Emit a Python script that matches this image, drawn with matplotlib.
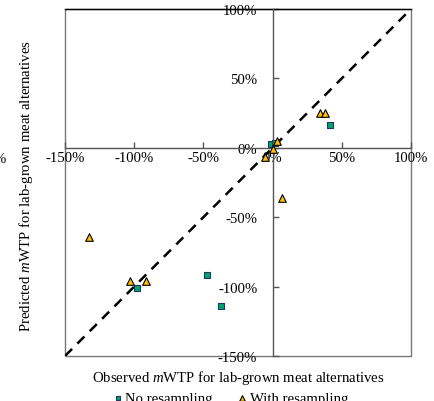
import matplotlib
matplotlib.use('Agg')
import matplotlib.pyplot as plt
from matplotlib.patches import Rectangle

plt.rcParams['font.family'] = ['Liberation Serif', 'DejaVu Serif']
plt.rcParams['mathtext.fontset'] = 'custom'
plt.rcParams['mathtext.it'] = 'Liberation Serif:italic'
plt.rcParams['mathtext.rm'] = 'Liberation Serif'

# observed vs predicted mWTP (%)
no_resamp_obs = [-1, 1.5, 41.5, -98, -47.5, -37]
no_resamp_pred = [2.5, 3.5, 16.8, -101, -91.5, -114]

with_resamp_obs = [34.3, 37.7, 3.4, 0.2, -5.6, 6.8, -132.8, -103, -91.8]
with_resamp_pred = [25.2, 25.2, 4.8, -1.2, -6.3, -36, -64.3, -96, -96]

ticks = [-150, -100, -50, 0, 50, 100]
tick_labels = ['-150%', '-100%', '-50%', '0%', '50%', '100%']

fs = 10.6

fig = plt.figure(figsize=(4.34, 4.02), dpi=100)
ax = fig.add_axes([0.1498, 0.112, 0.797, 0.863])

ax.plot([-150, 100], [-150, 100], color='black', linestyle=(0, (4, 3)), lw=1.8, zorder=2)

ax.scatter(no_resamp_obs, no_resamp_pred, marker='s', s=22, color='#00A36C',
           edgecolor='#1F3864', linewidth=0.8, label='No resampling', zorder=3)
ax.scatter(with_resamp_obs, with_resamp_pred, marker='^', s=30, color='#FFC000',
           edgecolor='black', linewidth=0.8, label='With resampling', zorder=3)

ax.set_xlim(-150, 100)
ax.set_ylim(-150, 100)

# axes cross at zero, plus a thin box round the plot area
ax.spines['left'].set_position(('data', 0))
ax.spines['bottom'].set_position(('data', 0))
ax.spines['right'].set_visible(False)
ax.spines['top'].set_visible(False)
for s in ['left', 'bottom']:
    ax.spines[s].set_color('#555555')
    ax.spines[s].set_linewidth(1.0)
ax.add_patch(Rectangle((0, 0), 1, 1, transform=ax.transAxes, fill=False,
                       edgecolor='#777777', lw=1.0, zorder=1, clip_on=False))
ax.plot([0, 1], [1, 1], transform=ax.transAxes, color='black', lw=1.0, clip_on=False)

ax.set_xticks(ticks)
ax.set_xticklabels(tick_labels)
ax.set_yticks(ticks)
ax.set_yticklabels(tick_labels)
ax.tick_params(axis='both', direction='in', length=4, width=1, color='#555555',
               labelsize=fs)
ax.tick_params(axis='x', pad=2)
ax.tick_params(axis='y', pad=11)

ax.set_xlabel('Observed $m$WTP for lab-grown meat alternatives', fontsize=fs)
ax.xaxis.set_label_coords(0.5, -0.035)
ax.set_ylabel('Predicted $m$WTP for lab-grown meat alternatives', fontsize=fs)
ax.yaxis.set_label_coords(-0.088, 0.492)

fig.text(0.014, 0.603, '%', fontsize=fs, ha='right', va='center')

fig.legend(loc='center', bbox_to_anchor=(0.53, 0.006), ncol=2, frameon=False,
           fontsize=fs, handletextpad=0.1, columnspacing=1.6, handlelength=0.8,
           markerscale=0.75)

fig.savefig('out.png', dpi=100)
